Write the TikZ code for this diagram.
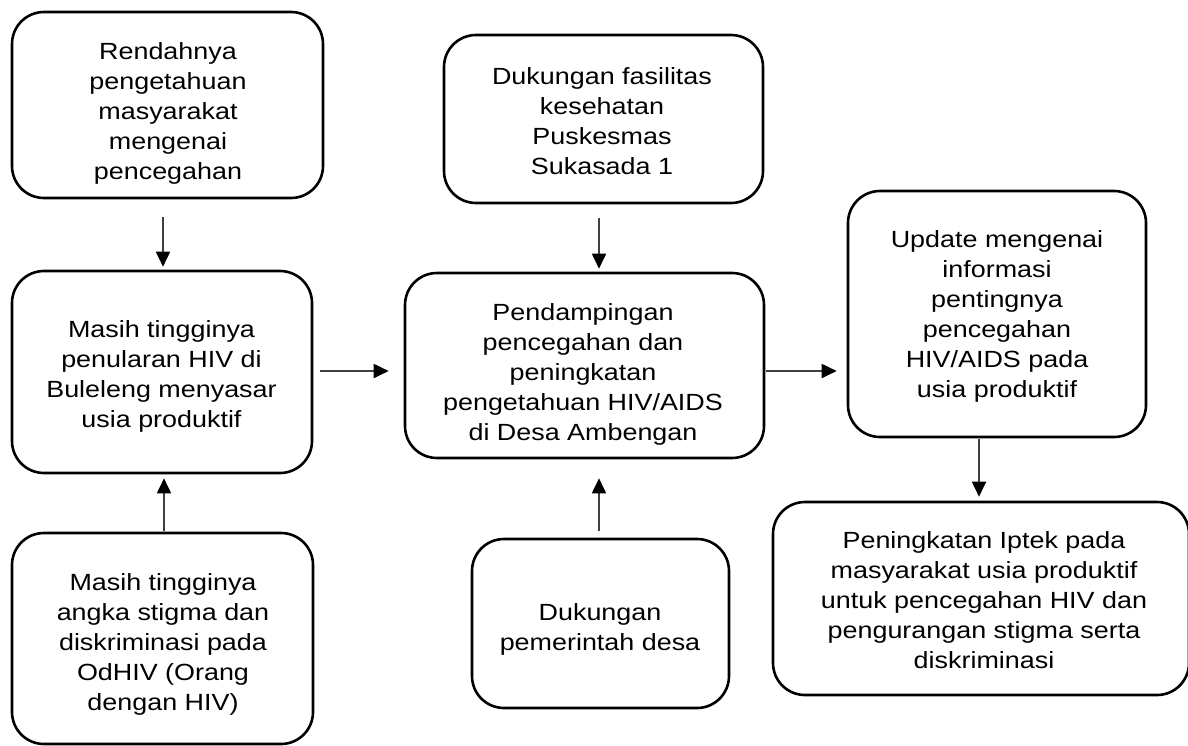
\documentclass[tikz,border=0pt]{standalone}
\usepackage{fontspec}
\setmainfont{Liberation Sans}[FakeStretch=1.15]
\usetikzlibrary{arrows.meta}
\begin{document}
\begin{tikzpicture}[x=0.5pt,y=-0.5pt,
  box/.style={draw=black, line width=1.3pt, rounded corners=16pt, inner sep=0pt},
  txt/.style={align=center, inner sep=0pt, anchor=north, font=\fontsize{11.7}{15}\selectfont},
  arr/.style={draw=black!75, line width=0.9pt, -{Triangle[length=7.5pt,width=7pt,color=black]}}]
\useasboundingbox (0,0) rectangle (1188,745);
\fill[white] (0,0) rectangle (1188,745);

% boxes
\node[box, minimum width=155.5pt, minimum height=93pt]   (A) at (167.5,105) {};
\node[box, minimum width=150pt,   minimum height=101pt]  (B) at (162,372) {};
\node[box, minimum width=150.5pt, minimum height=105.5pt](C) at (162.5,638.5) {};
\node[box, minimum width=159.5pt, minimum height=84pt]   (D) at (603.5,119) {};
\node[box, minimum width=179.5pt, minimum height=92.5pt] (E) at (584.5,365.5) {};
\node[box, minimum width=128.5pt, minimum height=84.5pt] (F) at (600.5,623.5) {};
\node[box, minimum width=149pt,   minimum height=123pt]  (G) at (997,314) {};
\node[box, minimum width=208pt,   minimum height=96.5pt] (H) at (981,598.5) {};

% texts
\node[txt] (tA) at (168,38) {\strut Rendahnya\\pengetahuan\\masyarakat\\mengenai\\pencegahan};
\node[txt] (tB) at (161.5,316) {\strut Masih tingginya\\penularan HIV di\\Buleleng menyasar\\usia produktif};
\node[txt] (tC) at (163,569) {\strut Masih tingginya\\angka stigma dan\\diskriminasi pada\\OdHIV (Orang\\dengan HIV)};
\node[txt] (tD) at (602,63) {\strut Dukungan fasilitas\\kesehatan\\Puskesmas\\Sukasada 1};
\node[txt] (tE) at (583,299) {\strut Pendampingan\\pencegahan dan\\peningkatan\\pengetahuan HIV/AIDS\\di Desa Ambengan};
\node[txt] (tF) at (600,599) {\strut Dukungan\\pemerintah desa};
\node[txt] (tG) at (997,226) {\strut Update mengenai\\informasi\\pentingnya\\pencegahan\\HIV/AIDS pada\\usia produktif};
\node[txt] (tH) at (984,527) {\strut Peningkatan Iptek pada\\masyarakat usia produktif\\untuk pencegahan HIV dan\\pengurangan stigma serta\\diskriminasi};

% connectors
\draw[arr] ([xshift=-2.25pt,yshift=-9pt]A.south) -- ([xshift=0.5pt,yshift=1.5pt]B.north);
\draw[arr] ([xshift=0.75pt,yshift=0.5pt]C.north) -- ([xshift=1pt,yshift=-2pt]B.south);
\draw[arr] ([xshift=3.5pt,yshift=0.5pt]B.east) -- ([xshift=-7.5pt,yshift=-2.75pt]E.west);
\draw[arr] ([xshift=-2.25pt,yshift=-7pt]D.south) -- ([xshift=7.25pt,yshift=1.5pt]E.north);
\draw[arr] ([xshift=-0.75pt,yshift=3.5pt]F.north) -- ([xshift=7.25pt,yshift=-9.5pt]E.south);
\draw[arr] ([xshift=0.5pt,yshift=-2.75pt]E.east) -- ([xshift=-5pt,yshift=-28.5pt]G.west);
\draw[arr] ([xshift=-9pt,yshift=-0.5pt]G.south) -- ([xshift=-1pt,yshift=2pt]H.north);
\end{tikzpicture}
\end{document}
